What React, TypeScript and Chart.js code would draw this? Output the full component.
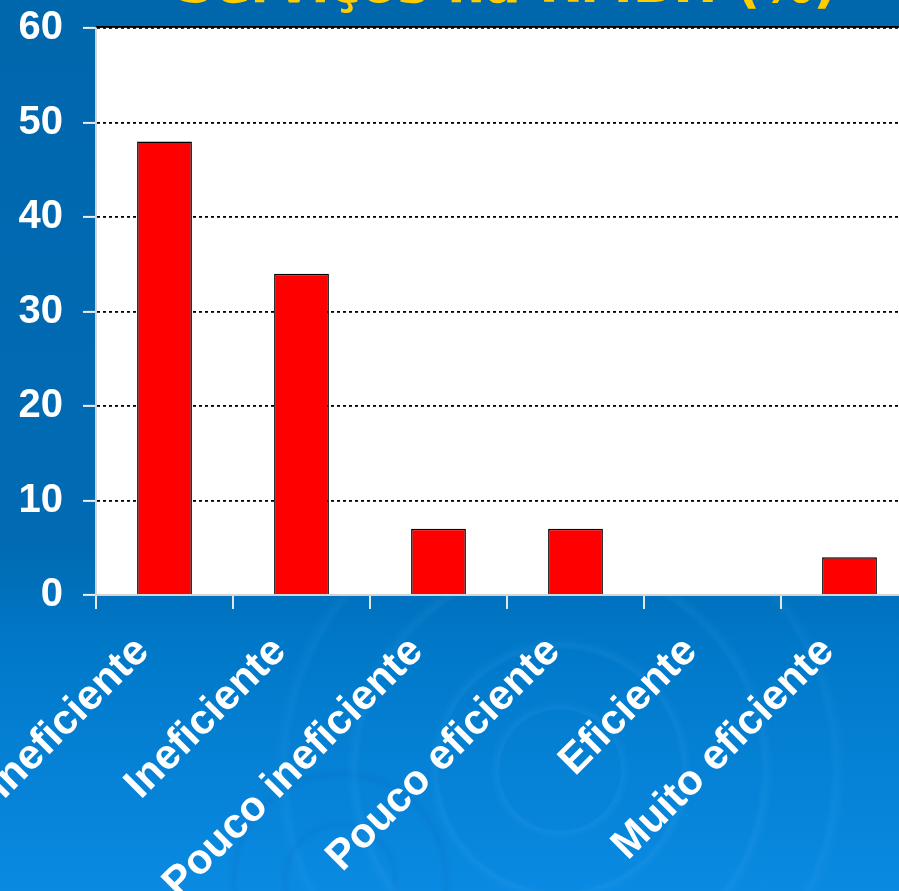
import React, { useEffect, useRef } from "react";
import { Chart, registerables } from "chart.js";

Chart.register(...registerables);

const categories = [
  "Muito ineficiente",
  "Ineficiente",
  "Pouco ineficiente",
  "Pouco eficiente",
  "Eficiente",
  "Muito eficiente",
];
const values = [48, 34, 7, 7, 0, 4];
const yMin = 0;
const yMax = 60;
const yStep = 10;
const titleText = "Serviços na RMBH (%)";

const CANVAS_LEFT = -250;
const CANVAS_TOP = -44;
const CANVAS_W = 1514;
const CANVAS_H = 939;

const plotBackground = {
  id: "plotBackground",
  beforeDraw(chart: any) {
    const { ctx, chartArea } = chart;
    ctx.save();
    ctx.fillStyle = "#ffffff";
    ctx.fillRect(chartArea.left, chartArea.top, chartArea.right - chartArea.left, chartArea.bottom - chartArea.top);
    ctx.restore();
  },
  beforeDatasetsDraw(chart: any) {
    const { ctx, chartArea } = chart;
    ctx.save();
    ctx.strokeStyle = "#000000";
    ctx.lineWidth = 1.5;
    ctx.beginPath();
    ctx.moveTo(chartArea.left, chartArea.top - 1.2);
    ctx.lineTo(chartArea.right, chartArea.top - 1.2);
    ctx.stroke();
    ctx.restore();
  },
};

export default function App() {
  const canvasRef = useRef<HTMLCanvasElement | null>(null);

  useEffect(() => {
    document.body.style.margin = "0";
    const canvas = canvasRef.current;
    if (!canvas) return;
    const chart = new Chart(canvas, {
      type: "bar",
      data: {
        labels: categories,
        datasets: [
          {
            data: values,
            backgroundColor: "#ff0000",
            borderColor: "#000000",
            borderWidth: 1.5,
            barPercentage: 0.8,
            categoryPercentage: 0.5,
            yAxisID: "y",
          },
        ],
      },
      options: {
        responsive: false,
        animation: false,
        devicePixelRatio: 1,
        layout: { padding: { left: 268, right: 268, top: 0, bottom: 0 } },
        plugins: {
          legend: { display: false },
          tooltip: { enabled: false },
          title: {
            display: true,
            text: titleText,
            color: "#ffcc00",
            font: { family: "'DejaVu Sans', sans-serif", size: 53, weight: "bold" },
            padding: { top: 0, bottom: 8.4 },
          },
        },
        scales: {
          x: {
            grid: {
              drawOnChartArea: false,
              color: "#e6e6e6",
              lineWidth: 2,
              tickLength: 14,
            },
            border: { color: "#d4d4d4", width: 2 },
            ticks: {
              color: "#ffffff",
              font: { family: "'Liberation Sans', Arial, sans-serif", size: 42, weight: "bold" },
              minRotation: 45,
              maxRotation: 45,
              autoSkip: false,
              padding: 18,
              labelOffset: -22,
            },
            afterFit: (s: any) => {
              s.height = 300;
            },
          },
          y: {
            min: yMin,
            max: yMax,
            grid: {
              color: (c: any) => (c.tick && c.tick.value === 0 ? "rgba(0,0,0,0)" : "#000000"),
              lineWidth: 1.8,
              tickColor: "#eeeeee",
              tickLength: 13,
              tickWidth: 2,
            },
            border: { color: "#d4d4d4", width: 2, dash: [3, 3] },
            ticks: {
              stepSize: yStep,
              color: "#ffffff",
              font: { family: "'Liberation Sans', Arial, sans-serif", size: 40, weight: "bold" },
              padding: 20,
            },
            afterFit: (s: any) => {
              s.width = 78;
            },
          },
          yRight: {
            position: "right",
            grid: { display: false },
            border: { display: false },
            ticks: { display: false },
            afterFit: (s: any) => {
              s.width = 78;
            },
          },
        },
      },
      plugins: [plotBackground],
    });
    return () => chart.destroy();
  }, []);

  return (
    <div
      style={{
        position: "fixed",
        left: 0,
        top: 0,
        width: 899,
        height: 891,
        overflow: "hidden",
        background:
          "radial-gradient(circle at 560px 770px, rgba(255,255,255,0) 0px, rgba(255,255,255,0) 60px, rgba(120,200,255,0.08) 62px, rgba(255,255,255,0) 70px, rgba(255,255,255,0) 120px, rgba(120,200,255,0.08) 124px, rgba(255,255,255,0) 132px, rgba(255,255,255,0) 200px, rgba(120,200,255,0.07) 205px, rgba(255,255,255,0) 214px, rgba(255,255,255,0) 270px, rgba(120,200,255,0.06) 276px, rgba(255,255,255,0) 286px), " +
          "radial-gradient(circle at 340px 880px, rgba(255,255,255,0) 0px, rgba(255,255,255,0) 50px, rgba(0,70,150,0.08) 55px, rgba(255,255,255,0) 62px, rgba(255,255,255,0) 100px, rgba(0,70,150,0.08) 106px, rgba(255,255,255,0) 114px), " +
          "linear-gradient(180deg, #0067ad 0%, #006bb4 62%, #0078c8 72%, #0a8ae2 100%)",
      }}
    >
      <canvas
        ref={canvasRef}
        width={CANVAS_W}
        height={CANVAS_H}
        style={{ position: "absolute", left: CANVAS_LEFT, top: CANVAS_TOP, width: CANVAS_W, height: CANVAS_H }}
      />
    </div>
  );
}
